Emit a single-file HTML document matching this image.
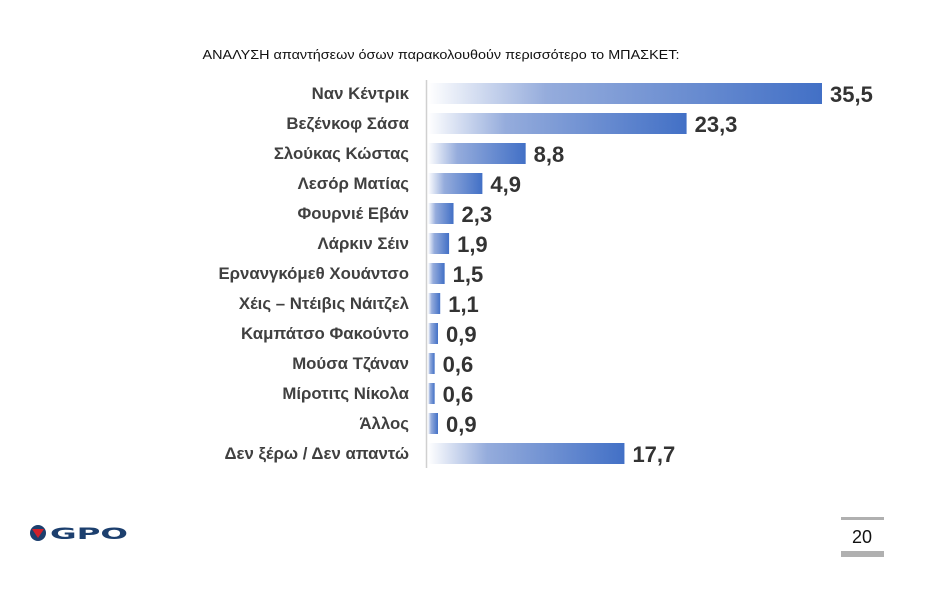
<!DOCTYPE html>
<html><head><meta charset="utf-8"><style>
body{margin:0;background:#fff;width:926px;height:589px;overflow:hidden;font-family:"Liberation Sans",sans-serif}
</style></head><body>
<svg width="926" height="589">
<defs><linearGradient id="g" x1="0" x2="1"><stop offset="0" stop-color="#ffffff"/><stop offset="0.3" stop-color="#95acdc"/><stop offset="1" stop-color="#4270c6"/></linearGradient></defs>
<text x="441" y="59" text-anchor="middle" font-size="13" textLength="477" lengthAdjust="spacingAndGlyphs" fill="#111">ΑΝΑΛΥΣΗ απαντήσεων όσων παρακολουθούν περισσότερο το ΜΠΑΣΚΕΤ:</text>
<line x1="426.5" y1="80" x2="426.5" y2="468" stroke="#d0d0d0" stroke-width="1.5"/>
<g id="bars"></g>
<g>
<circle cx="38" cy="533" r="8" fill="#1c3f6e"/><path d="M32,529 L44,529 L38,538 Z" fill="#d0202a"/>
<text x="50" y="539" font-size="16" font-weight="bold" fill="#1c3f6e" textLength="78" lengthAdjust="spacingAndGlyphs" style="font-family:'DejaVu Sans',sans-serif">GPO</text>
</g>
<rect x="841" y="517" width="43" height="3" fill="#b0b0b0"/>
<rect x="841" y="551" width="43" height="6" fill="#b0b0b0"/>
<text x="862" y="543" text-anchor="middle" font-size="18" fill="#111">20</text>
</svg>
<script>
const categories=["Ναν Κέντρικ","Βεζένκοφ Σάσα","Σλούκας Κώστας","Λεσόρ Ματίας","Φουρνιέ Εβάν","Λάρκιν Σέιν","Ερνανγκόμεθ Χουάντσο","Χέις – Ντέιβις Νάιτζελ","Καμπάτσο Φακούντο","Μούσα Τζάναν","Μίροτιτς Νίκολα","Άλλος","Δεν ξέρω / Δεν απαντώ"];
const values=[35.5,23.3,8.8,4.9,2.3,1.9,1.5,1.1,0.9,0.6,0.6,0.9,17.7];
const labels=["35,5","23,3","8,8","4,9","2,3","1,9","1,5","1,1","0,9","0,6","0,6","0,9","17,7"];
const x0=428,scale=(822-428)/35.5,y0=93.5,step=30,bh=21;
const xs=v=>x0+v*scale, ys=i=>y0+i*step;
const g=document.getElementById('bars'),NS="http://www.w3.org/2000/svg";
categories.forEach((c,i)=>{
 const r=document.createElementNS(NS,'rect');
 r.setAttribute('x',x0);r.setAttribute('y',ys(i)-bh/2);r.setAttribute('width',xs(values[i])-x0);r.setAttribute('height',bh);r.setAttribute('fill','url(#g)');
 
 
 g.appendChild(r);
 const t=document.createElementNS(NS,'text');
 t.setAttribute('x',409);t.setAttribute('y',ys(i)+5.5);t.setAttribute('text-anchor','end');t.setAttribute('font-size','16.8');t.setAttribute('font-weight','bold');t.setAttribute('fill','#404040');
 t.textContent=c;
 
 
 g.appendChild(t);
 const v=document.createElementNS(NS,'text');
 v.setAttribute('x',xs(values[i])+8);v.setAttribute('y',ys(i)+8.5);v.setAttribute('font-size','22');v.setAttribute('font-weight','bold');v.setAttribute('fill','#333');
 v.textContent=labels[i];
 
 
 g.appendChild(v);
});
</script>
</body></html>
